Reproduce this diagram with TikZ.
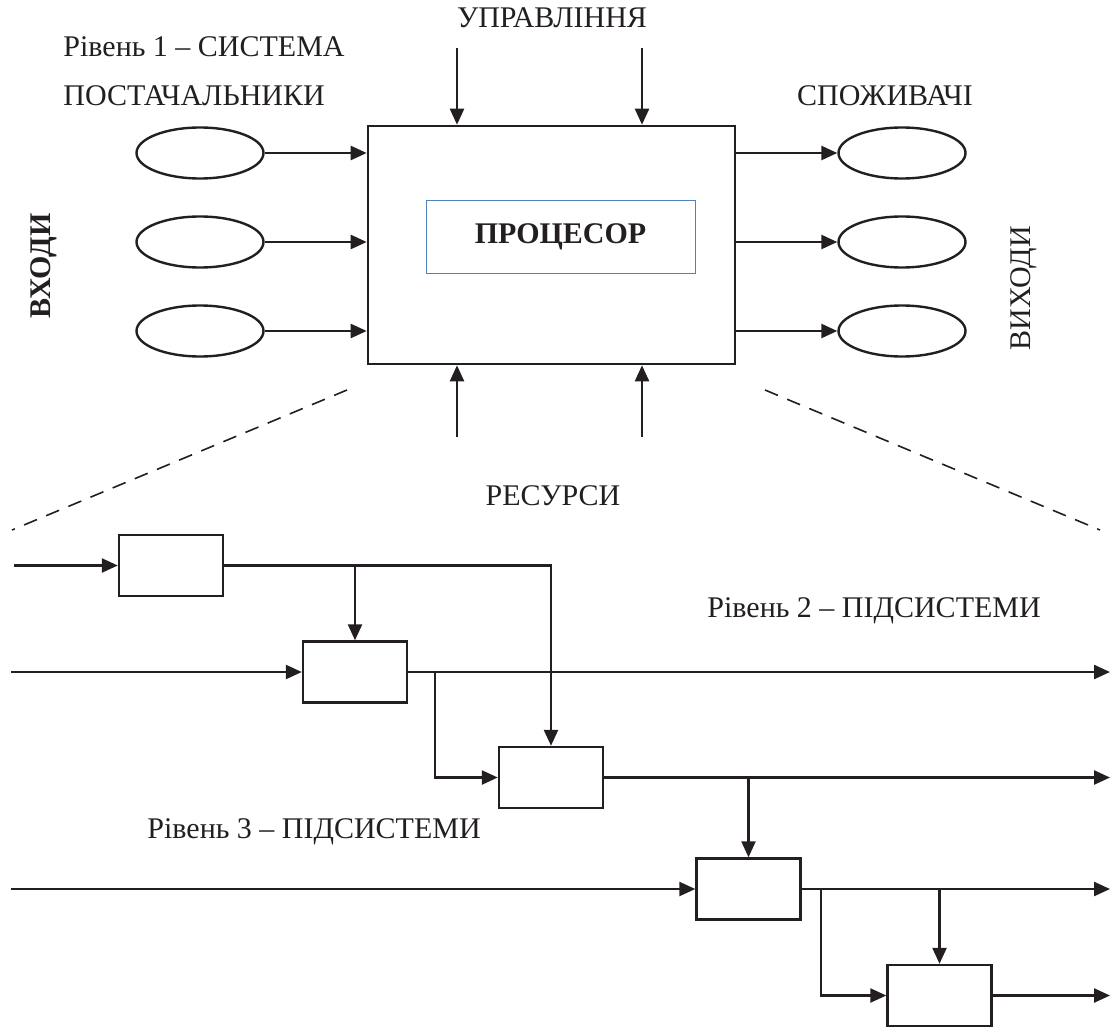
\documentclass[tikz,border=0pt]{standalone}
\usepackage{fontspec}
\setmainfont{Liberation Serif}
\usetikzlibrary{arrows.meta,shapes.geometric}
\definecolor{ink}{HTML}{231F20}
\definecolor{frameblue}{HTML}{4F81BD}
\begin{document}
\begin{tikzpicture}[x=0.5pt,y=-0.5pt,
  txt/.style={font=\fontsize{15pt}{18pt}\selectfont, inner sep=0pt, text=ink},
  arr/.style={draw=ink, line width=1.2pt, -{Triangle[length=8pt,width=7pt]}},
  blk/.style={draw=ink, line width=1.2pt, minimum width=52pt, minimum height=30.5pt, inner sep=0pt},
  oval/.style={ellipse, draw=ink, line width=1.2pt, minimum width=63.5pt, minimum height=25.5pt, inner sep=0pt},
  zoomline/.style={draw=ink, line width=0.8pt, dash pattern=on 7pt off 5pt}]
\useasboundingbox (0,0) rectangle (1117,1027);

% ---- Level 1 ----
\node[draw=ink, line width=1.3pt, minimum width=183.5pt, minimum height=119pt, inner sep=0pt] (M) at (551.5,245) {};
\node[draw=frameblue, line width=0.5pt, minimum width=134.5pt, minimum height=36pt, inner sep=0pt, font=\fontsize{15pt}{18pt}\selectfont\bfseries, text=ink] (P) at (560.5,237) {ПРОЦЕСОР};

\node[oval] (L1) at (200,153) {};
\node[oval] (L2) at (200,242) {};
\node[oval] (L3) at (200,331) {};
\node[oval] (R1) at (902,153) {};
\node[oval] (R2) at (902,242) {};
\node[oval] (R3) at (902,331) {};

\draw[arr] (L1.east) -- (L1.east -| M.west);
\draw[arr] (L2.east) -- (L2.east -| M.west);
\draw[arr] (L3.east) -- (L3.east -| M.west);
\draw[arr] (R1.west -| M.east) -- (R1.west);
\draw[arr] (R2.west -| M.east) -- (R2.west);
\draw[arr] (R3.west -| M.east) -- (R3.west);

\coordinate (u1) at (457,48);
\coordinate (u2) at (642,48);
\coordinate (r1) at (457,437);
\coordinate (r2) at (642,437);
\draw[arr] (u1) -- (u1 |- M.north);
\draw[arr] (u2) -- (u2 |- M.north);
\draw[arr] (r1) -- (r1 |- M.south);
\draw[arr] (r2) -- (r2 |- M.south);

\node[txt, anchor=base] (tU) at (552,28) {УПРАВЛІННЯ};
\node[txt, anchor=base west] (tL1) at (63,57) {Рівень 1 – СИСТЕМА};
\node[txt, anchor=base west] (tPost) at (63,106) {ПОСТАЧАЛЬНИКИ};
\node[txt, anchor=base] (tSp) at (885,106) {СПОЖИВАЧІ};
\node[txt, anchor=base] (tRes) at (553,505) {РЕСУРСИ};
\node[txt, font=\fontsize{15pt}{18pt}\selectfont\bfseries, rotate=90] (tIn) at (44,266) {ВХОДИ};
\node[txt, rotate=90] (tOut) at (1024,288) {ВИХОДИ};

% dashed zoom lines
\coordinate (dL1) at (347,390);
\coordinate (dL2) at (12,530);
\coordinate (dR1) at (765,390);
\coordinate (dR2) at (1100,530);
\draw[zoomline] (dL1) -- (dL2);
\draw[zoomline] (dR1) -- (dR2);

% ---- Level 2/3 ----
\node[blk] (A) at (171,565.5) {};
\node[blk] (B) at (355,672) {};
\node[blk] (C) at (551,777.5) {};
\node[blk] (D) at (748.5,889) {};
\node[blk] (E) at (939.5,995.5) {};

\coordinate (inA) at (14,565.5);
\coordinate (inB) at (11,672);
\coordinate (inD) at (11,889);
\coordinate (outB) at (1110,672);
\coordinate (outC) at (1110,777.5);
\coordinate (outD) at (1110,889);
\coordinate (outE) at (1110,995.5);
\coordinate (bB) at (435,672);
\coordinate (bD) at (821,889);

\draw[arr] (inA) -- (A.west);
\draw[arr] (inB) -- (B.west);
\draw[arr] (inD) -- (D.west);

\draw[arr] (A.east) -| (C.north);
\draw[arr] (B.north |- A.east) -- (B.north);

\draw[arr] (B.east) -- (outB);
\draw[arr] (bB) |- (C.west);

\draw[arr] (C.east) -- (outC);
\draw[arr] (D.north |- C.east) -- (D.north);

\draw[arr] (D.east) -- (outD);
\draw[arr] (bD) |- (E.west);
\draw[arr] (E.north |- D.east) -- (E.north);

\draw[arr] (E.east) -- (outE);

\node[txt, anchor=base west] (tL2) at (707,617) {Рівень 2 – ПІДСИСТЕМИ};
\node[txt, anchor=base west] (tL3) at (147,838) {Рівень 3 – ПІДСИСТЕМИ};
\end{tikzpicture}
\end{document}
